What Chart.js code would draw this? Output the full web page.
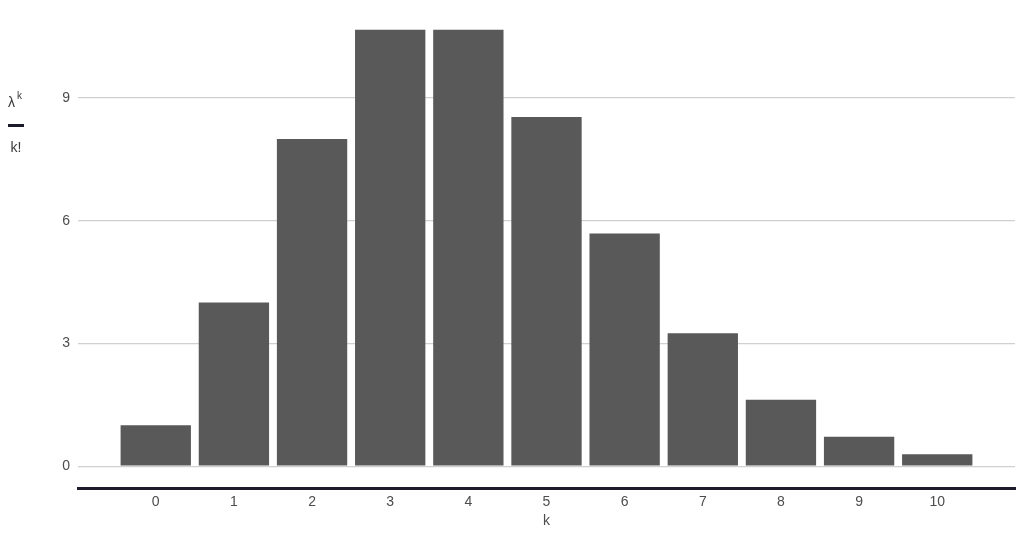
<!DOCTYPE html>
<html>
<head>
<meta charset="utf-8">
<script src="https://cdn.jsdelivr.net/npm/chart.js@4/dist/chart.umd.min.js"></script>
<style>
  html, body { margin: 0; padding: 0; background: #ffffff; }
  #wrap { width: 1024px; height: 536px; position: relative; }
</style>
</head>
<body>
<div id="wrap"><canvas id="c" width="1024" height="536"></canvas></div>
<script>
const categories = [0, 1, 2, 3, 4, 5, 6, 7, 8, 9, 10];
const values = [1, 4, 8, 10.667, 10.667, 8.533, 5.689, 3.251, 1.625, 0.722, 0.289];
const yTicks = [0, 3, 6, 9];
const xTitle = 'k';
const yTitleTop = 'λ';
const yTitleSup = 'k';
const yTitleBottom = 'k!';

const FONT = "'Liberation Sans', Arial, sans-serif";
const ymax = Math.max(...values);
const yExp = ymax * 0.05;
const xExp = (categories[categories.length - 1] - categories[0] + 0.9) * 0.05;

const yLabelPlugin = {
  id: 'yLabel',
  afterDraw(chart) {
    const ctx = chart.ctx;
    ctx.save();
    ctx.fillStyle = '#3a3a3a';
    ctx.textBaseline = 'alphabetic';
    ctx.font = '14px ' + FONT;
    ctx.textAlign = 'left';
    ctx.fillText(yTitleTop, 8, 107);
    ctx.font = '10px ' + FONT;
    ctx.fillText(yTitleSup, 17, 99);
    ctx.fillStyle = '#1a1a2a';
    ctx.fillRect(8, 124, 16, 3);
    ctx.fillStyle = '#3a3a3a';
    ctx.font = '14px ' + FONT;
    ctx.textAlign = 'center';
    ctx.fillText(yTitleBottom, 16, 152);
    ctx.restore();
  }
};

new Chart(document.getElementById('c'), {
  type: 'bar',
  data: {
    datasets: [{
      data: categories.map((c, i) => ({ x: c, y: values[i] })),
      backgroundColor: '#595959',
      borderWidth: 0,
      categoryPercentage: 1.0,
      barPercentage: 0.9
    }]
  },
  options: {
    responsive: false,
    animation: false,
    layout: { padding: { left: 0, right: 9, top: 8, bottom: 0 } },
    plugins: { legend: { display: false }, tooltip: { enabled: false } },
    scales: {
      x: {
        type: 'linear',
        offset: false,
        min: categories[0] - 0.45 - xExp,
        max: categories[categories.length - 1] + 0.45 + xExp,
        afterBuildTicks: s => { s.ticks = categories.map(v => ({ value: v })); },
        afterFit: s => { s.height = 48; s.paddingLeft = 0; s.paddingRight = 0; },
        grid: { display: false, drawTicks: false },
        border: { display: true, color: '#1c1c2c', width: 3 },
        ticks: { color: '#4d4d4d', font: { family: FONT, size: 14 }, padding: 6, maxRotation: 0, autoSkip: false },
        title: { display: true, text: xTitle, color: '#4d4d4d', font: { family: FONT, size: 14 }, padding: { top: 0, bottom: 6 } }
      },
      y: {
        min: -yExp,
        max: ymax + yExp,
        afterBuildTicks: s => { s.ticks = yTicks.map(v => ({ value: v })); },
        afterFit: s => { s.width = 78; s.paddingTop = 0; s.paddingBottom = 0; },
        grid: { color: '#d0d0d0', lineWidth: 1.3, drawTicks: false },
        border: { display: false },
        ticks: { color: '#4d4d4d', font: { family: FONT, size: 14 }, padding: 8 }
      }
    }
  },
  plugins: [yLabelPlugin]
});
</script>
</body>
</html>
